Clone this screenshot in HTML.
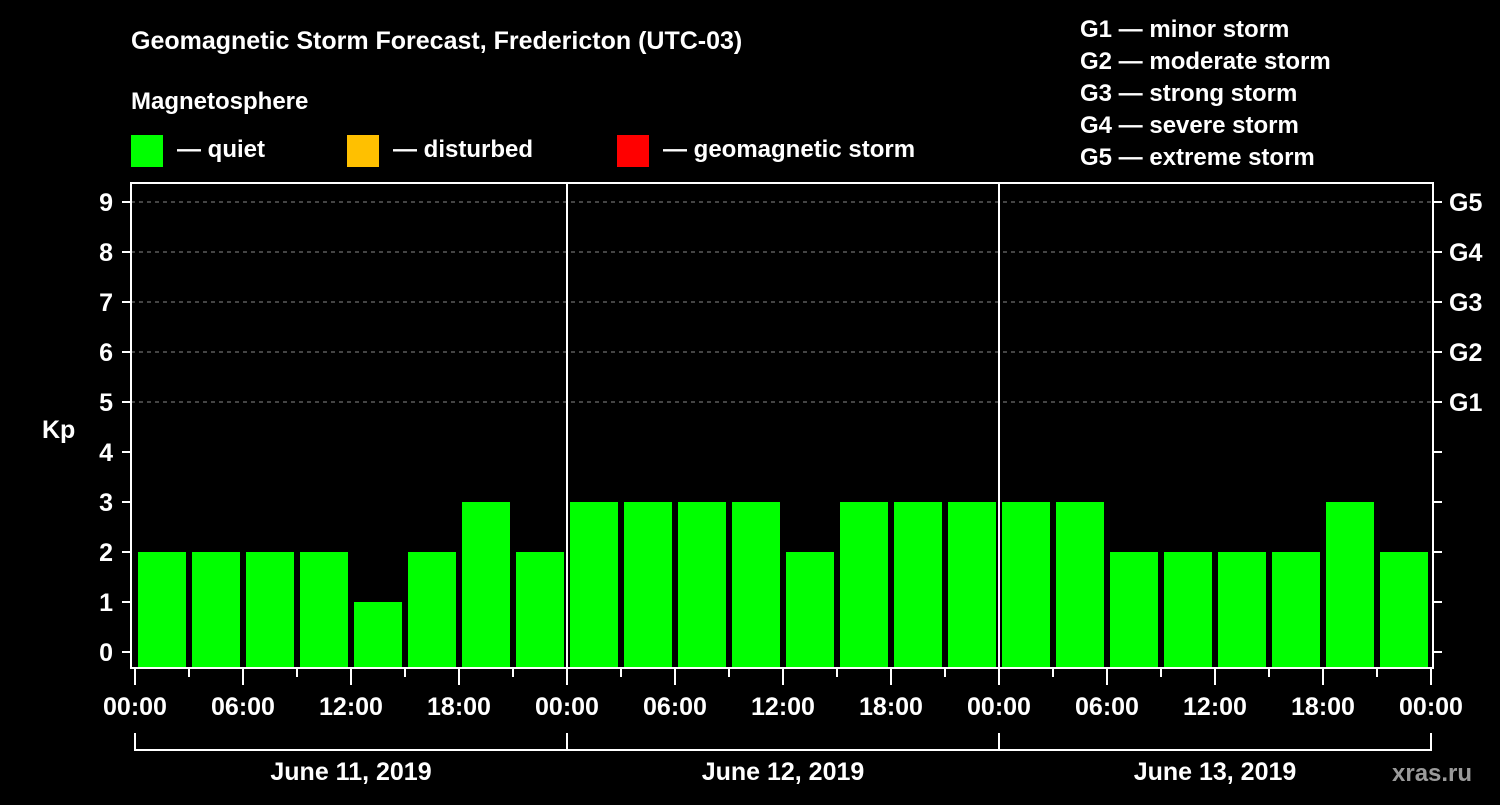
<!DOCTYPE html>
<html><head><meta charset="utf-8"><style>
html,body{margin:0;padding:0;background:#000;}
svg text{font-family:"Liberation Sans",Arial,sans-serif;font-weight:bold;fill:#fff;}
</style></head><body>
<svg id="chart" width="1500" height="800" viewBox="0 0 1500 800" xmlns="http://www.w3.org/2000/svg">
<rect width="1500" height="800" fill="#000"/>
<text x="131" y="49" font-size="25">Geomagnetic Storm Forecast, Fredericton (UTC-03)</text>
<text x="131" y="109" font-size="24">Magnetosphere</text>
<g><rect x="131" y="135" width="32" height="32" fill="#00ff00"/><text x="177" y="157" font-size="24">— quiet</text></g>
<g><rect x="347" y="135" width="32" height="32" fill="#ffc000"/><text x="393" y="157" font-size="24">— disturbed</text></g>
<g><rect x="617" y="135" width="32" height="32" fill="#ff0000"/><text x="663" y="157" font-size="24">— geomagnetic storm</text></g>
<g font-size="24">
<text x="1080" y="37">G1 — minor storm</text>
<text x="1080" y="69">G2 — moderate storm</text>
<text x="1080" y="101">G3 — strong storm</text>
<text x="1080" y="133">G4 — severe storm</text>
<text x="1080" y="165">G5 — extreme storm</text>
</g>
<text x="42" y="438" font-size="25">Kp</text>
<g id="grid"></g><g id="bars"></g><g id="axes"></g>
<text x="1392" y="781" font-size="24" fill="#999" style="fill:#9a9a9a">xras.ru</text>
</svg>
<script>
const kpValues=[2,2,2,2,1,2,3,2, 3,3,3,3,2,3,3,3, 3,3,2,2,2,2,3,2];
const dayLabels=["June 11, 2019","June 12, 2019","June 13, 2019"];
const timeLabels=["00:00","06:00","12:00","18:00"];
const yTicks=[0,1,2,3,4,5,6,7,8,9];
const gLabels=["","","","","","G1","G2","G3","G4","G5"];
const NS="http://www.w3.org/2000/svg";
const L=131,R=1433,T=183,B=668,X0=135,SLOT=54;
const y=v=>652-50*v;
const x=i=>X0+SLOT*i;
function mk(tag,attrs,parent){const e=document.createElementNS(NS,tag);for(const k in attrs)e.setAttribute(k,attrs[k]);parent.appendChild(e);return e;}
const grid=document.getElementById('grid'),bars=document.getElementById('bars'),axes=document.getElementById('axes');
yTicks.forEach(v=>{
 if(v>=5){const l=mk('line',{x1:L,x2:R,y1:y(v),y2:y(v),stroke:'#888','stroke-width':1,'stroke-dasharray':'4,4'},grid);
 
 }
 const t=mk('line',{x1:122,x2:L,y1:y(v),y2:y(v),stroke:'#fff','stroke-width':2},axes);
 
 
 const t2=mk('line',{x1:R,x2:1442,y1:y(v),y2:y(v),stroke:'#fff','stroke-width':2},axes);
 
 
 const tx=mk('text',{x:113,y:y(v)+9,'font-size':25,'text-anchor':'end'},axes);tx.textContent=v;
 
 
 if(gLabels[v]){const g=mk('text',{x:1449,y:y(v)+9,'font-size':25},axes);g.textContent=gLabels[v];
 
 }
});
kpValues.forEach((v,i)=>{
 const c=v>=5?'#ff0000':(v>=4?'#ffc000':'#00ff00');
 const b=mk('rect',{x:x(i)+3,y:y(v),width:48,height:B-1-y(v),fill:c},bars);
 
 
});
mk('rect',{x:L,y:T,width:R-L,height:B-T,fill:'none',stroke:'#fff','stroke-width':2},axes);
for(let d=1;d<3;d++){mk('line',{x1:x(8*d),x2:x(8*d),y1:T,y2:B,stroke:'#fff','stroke-width':2},axes);}
for(let i=0;i<=24;i++){
 const major=i%2===0;
 mk('line',{x1:x(i),x2:x(i),y1:B,y2:major?685:677,stroke:'#fff','stroke-width':2},axes);
 if(major){const t=mk('text',{x:x(i),y:715,'font-size':25,'text-anchor':'middle'},axes);t.textContent=timeLabels[(i/2)%4];
 
 }
}
dayLabels.forEach((d,k)=>{
 mk('path',{d:`M${x(8*k)},733V750H${x(8*k+8)}`+(k===2?`V733`:''),fill:'none',stroke:'#fff','stroke-width':2},axes);
 const t=mk('text',{x:x(8*k+4),y:780,'font-size':25,'text-anchor':'middle'},axes);t.textContent=d;
 
 
});
</script>
</body></html>
